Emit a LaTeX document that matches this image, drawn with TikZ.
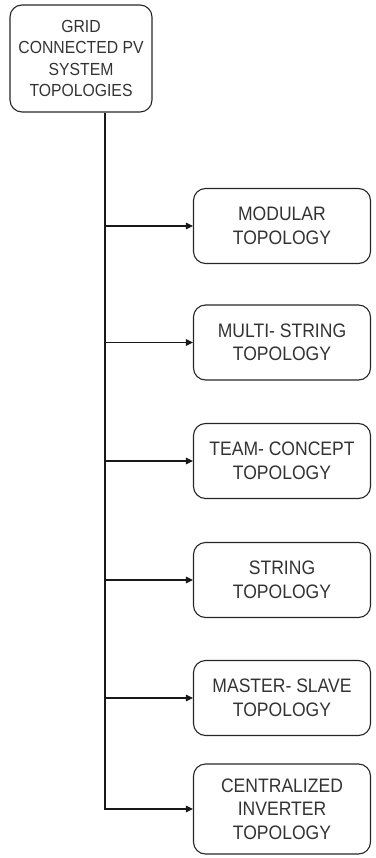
\documentclass[tikz,border=0pt]{standalone}
\usepackage{fontspec}
\setmainfont{Liberation Sans}
% slightly narrow face for the box labels
\newfontfamily\labelfont[FakeStretch=0.9]{Liberation Sans}
\usetikzlibrary{arrows.meta}
\begin{document}
\begin{tikzpicture}[x=1pt,y=-1pt,
  box/.style={draw=black!85, line width=1.1pt, rounded corners=12pt,
    align=center, inner sep=0pt, text=black!80},
  topbox/.style={box, minimum width=142pt, minimum height=107pt,
    font=\labelfont\fontsize{17.5}{21.5}\selectfont},
  leaf/.style={box, minimum width=177pt, minimum height=75pt,
    font=\labelfont\fontsize{19.5}{23.5}\selectfont},
  link/.style={draw=black!90, line width=1.1pt},
  arrow/.style={link, -{Triangle[length=7pt,width=6.5pt]}}]
  \useasboundingbox (0,0) rectangle (375,858);

  \node[topbox] (root) at (81,58.5) {GRID\\CONNECTED PV\\SYSTEM\\TOPOLOGIES};
  \coordinate (tx) at (105,0);

  \node[leaf] (b1) at (282,226) {MODULAR\\TOPOLOGY};
  \node[leaf] (b2) at (282,342.5) {MULTI- STRING\\TOPOLOGY};
  \node[leaf] (b3) at (282,461) {TEAM- CONCEPT\\TOPOLOGY};
  \node[leaf] (b4) at (282,580) {STRING\\TOPOLOGY};
  \node[leaf] (b5) at (282,698) {MASTER- SLAVE\\TOPOLOGY};
  \node[leaf, minimum height=90pt] (b6) at (282,809) {CENTRALIZED\\INVERTER\\TOPOLOGY};

  % trunk running down to the last box
  \draw[arrow] (root.south -| tx) |- (b6.west);
  % branches to the other boxes
  \foreach \b in {b1,b2,b3,b4,b5}
    \draw[arrow] (\b.west -| tx) -- (\b.west);
\end{tikzpicture}
\end{document}
